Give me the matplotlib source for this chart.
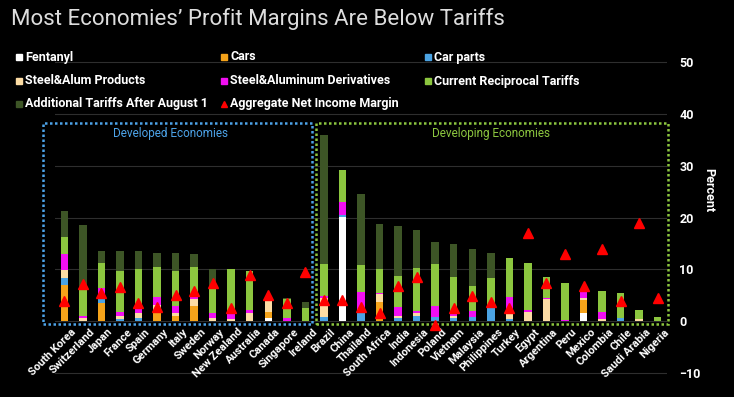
import numpy as np
import matplotlib.pyplot as plt
from matplotlib.patches import Rectangle

plt.rcParams['font.family'] = ['Liberation Sans Narrow', 'Roboto', 'DejaVu Sans']

countries = ['South Korea', 'Switzerland', 'Japan', 'France', 'Spain', 'Germany', 'Italy',
             'Sweden', 'Norway', 'New Zealand', 'Australia', 'Canada', 'Singapore', 'Ireland',
             'Brazil', 'China', 'Thailand', 'South Africa', 'India', 'Indonesia', 'Poland',
             'Vietnam', 'Malaysia', 'Philippines', 'Turkey', 'Egypt', 'Argentina', 'Peru',
             'Mexico', 'Colombia', 'Chile', 'Saudi Arabia', 'Nigeria']

# tariff components, percent (stacked bottom to top)
fentanyl = [0, 0, 0, 0, 0, 0, 0, 0, 0, 0, 0, 0.65, 0, 0,
            0, 20.1, 0, 0, 0, 0, 0, 0, 0, 0, 0, 0, 0, 0, 1.6, 0, 0, 0, 0]
cars = [7.0, 0, 3.4, 0, 0, 2.1, 1.0, 2.9, 0, 0, 0, 1.15, 0, 0,
        0, 0, 0, 3.7, 0, 0, 0, 0, 0, 0, 0, 0, 0, 0, 2.4, 0, 0, 0, 0]
car_parts = [1.4, 0, 1.0, 0.4, 0.5, 0, 0, 0, 0, 0, 0, 0, 0, 0,
             0.8, 0.5, 1.9, 0, 0.5, 1.0, 0.8, 0.5, 0.8, 2.45, 0.4, 0, 0, 0, 0, 0, 0.5, 0, 0]
steel_products = [1.4, 0.6, 0, 0.5, 1.1, 1.0, 0.5, 1.3, 0.5, 0.4, 1.5, 2.25, 0, 0,
                  3.6, 0, 0.5, 1.5, 0.5, 0.5, 0, 0.5, 0, 0, 1.3, 1.8, 4.25, 0, 0.5, 0.3, 0, 0.4, 0]
steel_derivatives = [3.1, 0.4, 1.9, 0.8, 1.0, 1.6, 1.4, 0.8, 1.0, 0.9, 0.6, 0.5, 0.5, 0,
                     0.5, 2.4, 3.3, 0.3, 1.8, 0.4, 2.1, 0.8, 1.1, 0.65, 3.0, 0.3, 0.25, 0.2,
                     1.5, 1.5, 0, 0, 0]
reciprocal = [3.3, 5.2, 4.95, 7.95, 7.4, 5.7, 6.75, 5.4, 4.9, 8.7, 7.6, 0, 3.7, 2.5,
              6.2, 6.3, 5.1, 4.5, 5.95, 8.4, 8.2, 6.75, 4.9, 5.3, 7.4, 9.15, 4.05, 7.25,
              0, 4.0, 4.9, 1.7, 0.85]
additional = [5.0, 12.3, 2.3, 3.95, 3.6, 2.8, 3.45, 2.5, 3.6, 0, 0, 0, 0.2, 1.2,
              24.8, 0, 13.8, 8.7, 9.55, 7.3, 4.1, 6.35, 7.2, 4.8, 0, 0, 0, 0,
              0, 0, 0, 0, 0]
# aggregate net income margin, percent
margin = [3.9, 7.1, 5.5, 6.6, 3.4, 2.8, 5.0, 5.8, 7.3, 2.45, 9.0, 5.0, 3.4, 9.5,
          4.1, 4.05, 2.8, 1.5, 6.8, 8.55, -0.7, 2.45, 4.9, 3.7, 2.5, 17.05, 7.3, 12.9,
          6.8, 13.9, 3.8, 19.0, 4.5]

series = [fentanyl, cars, car_parts, steel_products, steel_derivatives, reciprocal, additional]
names = ['Fentanyl', 'Cars', 'Car parts', 'Steel&Alum Products', 'Steel&Aluminum Derivatives',
         'Current Reciprocal Tariffs', 'Additional Tariffs After August 1']
colors = ['#ffffff', '#f5a31a', '#4ba3e3', '#fcdca4', '#f20ff2', '#8cc63f', '#3d5526']

fig = plt.figure(figsize=(7.34, 3.97), dpi=100, facecolor='black')
ax = fig.add_axes([55 / 734, 17 / 397, 612 / 734, 325 / 397])
ax.set_facecolor('black')

x = np.arange(len(countries))
bottom = np.zeros(len(countries))
for vals, col in zip(series, colors):
    vals = np.array(vals)
    ax.bar(x, vals, 0.4, bottom=bottom, color=col, zorder=3)
    bottom += vals

ax.plot(x, margin, linestyle='none', marker='^', markersize=6.5, color='#ff0000', zorder=5,
        clip_on=False)

ax.set_xlim(-0.5, 32.5)
ax.set_ylim(-11.4, 51.45)
ax.set_yticks(range(-10, 51, 10))
ax.yaxis.tick_right()
ax.tick_params(axis='y', length=0, pad=9, labelcolor='white', labelsize=9)
for t in ax.get_yticklabels():
    t.set_fontweight('bold')
ax.set_xticks([])
ax.yaxis.grid(True, color='#2e2e2e', linewidth=0.8, zorder=0)
for s in ax.spines.values():
    s.set_visible(False)

for i, name in enumerate(countries):
    ax.text(i + 0.35, -1.1, name, rotation=45, ha='right', va='top', rotation_mode='anchor',
            color='white', fontsize=8, fontweight='bold')

# group boxes
ax.add_patch(Rectangle((-1.13, -0.6), 14.49, 38.9, fill=False, edgecolor='#4da3e8',
                       linestyle=(0, (1, 1)), linewidth=1.8, clip_on=False, zorder=4))
ax.add_patch(Rectangle((13.58, -0.6), 18.96, 38.9, fill=False, edgecolor='#8cc63f',
                       linestyle=(0, (1, 1)), linewidth=1.8, clip_on=False, zorder=4))
ax.text(5.74, 36.3, 'Developed Economies', color='#4da3e8', ha='center', va='center',
        fontsize=8.5)
ax.text(23.0, 36.3, 'Developing Economies', color='#8cc63f', ha='center', va='center',
        fontsize=8.5)

fig.text(11 / 734, 1 - 25 / 397, 'Most Economies\u2019 Profit Margins Are Below Tariffs',
         color='#dddddd', fontsize=16, va='baseline')
fig.text(709 / 734, 1 - 190 / 397, 'Percent', rotation=270, color='white', fontsize=9,
         fontweight='bold', ha='center', va='center')

# legend, three columns
leg_names = names + ['Aggregate Net Income Margin']
leg_colors = colors + ['#ff0000']
col_x = [19, 224, 428]
row_y = [57, 81, 104]
for k, (nm, col) in enumerate(zip(leg_names, leg_colors)):
    r, c = divmod(k, 3)
    mx = col_x[c] / 734
    my = 1 - row_y[r] / 397
    mk = '^' if nm.startswith('Aggregate') else 's'
    fig.lines.append(plt.Line2D([mx], [my], marker=mk, markersize=4, color=col,
                                linestyle='none', transform=fig.transFigure))
    fig.text(mx + 6 / 734, my, nm, color='white', fontsize=9, fontweight='bold',
             va='center', ha='left')

fig.savefig('out.png', dpi=100, facecolor='black')
